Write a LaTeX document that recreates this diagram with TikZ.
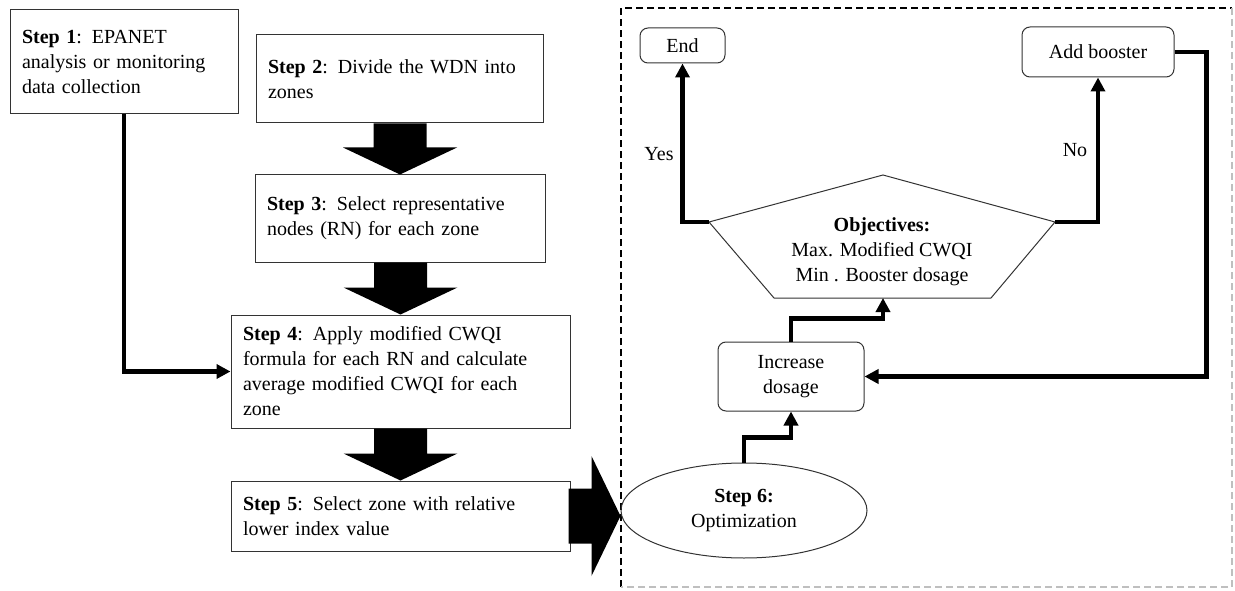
\documentclass[tikz,border=0pt]{standalone}
\usepackage{fontspec}
\setmainfont{Liberation Serif}
\usetikzlibrary{arrows.meta,shapes.geometric,calc}

% filled block arrow pointing down, from the bottom of #1 to the top of #2
\newcommand\blockdown[2]{%
  \fill let \p1=(#1.south), \p2=(#2.north) in
    (\x2-26.5pt,\y1) -- (\x2+26.5pt,\y1) -- (\x2+26.5pt,\y2+27pt) --
    (\x2+57pt,\y2+27pt) -- (\x2,\y2) -- (\x2-57pt,\y2+27pt) --
    (\x2-26.5pt,\y2+27pt) -- cycle;}

\begin{document}
\begin{tikzpicture}[x=1pt,y=-1pt,
  every node/.style={font=\fontsize{20}{25}\selectfont},
  stepbox/.style={draw=black!80,line width=1pt,rectangle,inner xsep=12pt,
    inner ysep=0pt,align=left},
  roundbox/.style={draw=black!80,line width=1pt,rectangle,rounded corners=8pt,
    inner sep=0pt,align=center},
  conn/.style={line width=4.5pt,-{Triangle[length=14pt,width=14pt]}},
  frame/.style={line width=1.2pt,dash pattern=on 7pt off 4pt}
]
\useasboundingbox (0,0) rectangle (1235,591);

% ---- left column: preparation steps ----
\node[stepbox,minimum width=228pt,minimum height=104pt,text width=204pt] (s1) at (124,62)
  {\textbf{Step 1}: EPANET\\analysis or monitoring\\data collection};
\node[stepbox,minimum width=287pt,minimum height=88pt,text width=263pt] (s2) at (399.5,79)
  {\textbf{Step 2}: Divide the WDN into\\zones};
\node[stepbox,minimum width=290pt,minimum height=87pt,text width=266pt] (s3) at (400,218.5)
  {\textbf{Step 3}: Select representative\\nodes (RN) for each zone};
\node[stepbox,minimum width=339pt,minimum height=113pt,text width=315pt] (s4) at (400.5,371.5)
  {\textbf{Step 4}: Apply modified CWQI\\formula for each RN and calculate\\average modified CWQI for each\\zone};
\node[stepbox,minimum width=339pt,minimum height=70pt,text width=315pt] (s5) at (400.5,516)
  {\textbf{Step 5}: Select zone with relative\\lower index value};

\blockdown{s2}{s3}
\blockdown{s3}{s4}
\blockdown{s4}{s5}

\draw[conn] (s1.south) |- (s4.west);

% ---- optimisation loop ----
\draw[frame] (621,587) -- (621,8) -- (1232,8);
\draw[frame,draw=black!25] (1232,8) -- (1232,587) -- (621,587);

\node[draw=black!80,line width=1pt,ellipse,minimum width=246pt,minimum height=95pt,
  inner sep=0pt,align=center] (opt) at (744,510.5) {\textbf{Step 6:}\\Optimization};

\fill let \p1=(s5.east), \p2=(opt.west) in
  (\x1-2pt,\y1+27.5pt) -- (\x2-29pt,\y1+27.5pt) -- (\x2-29pt,\y1+60pt) --
  (\x2,\y1) -- (\x2-29pt,\y1-60pt) -- (\x2-29pt,\y1-27.5pt) --
  (\x1-2pt,\y1-27.5pt) -- cycle;

\node[roundbox,minimum width=146pt,minimum height=69pt] (inc) at (791,376.5)
  {Increase\\dosage};
\node[roundbox,minimum width=85pt,minimum height=35pt] (end) at (682.5,45.5) {End};
\node[roundbox,minimum width=152pt,minimum height=50pt] (add) at (1098,52) {Add booster};

% objectives pentagon
\coordinate (pa) at (883,175);
\coordinate (pl) at (709,222);
\coordinate (pr) at (1055,222);
\coordinate (pbl) at (774,298);
\coordinate (pbr) at (991,298);
\coordinate (pb) at (883,298);
\draw[draw=black!80,line width=1pt] (pa) -- (pr) -- (pbr) -- (pbl) -- (pl) -- cycle;
\node[align=center,inner sep=0pt] (obj) at (882,252)
  {\textbf{Objectives:}\\Max. Modified CWQI\\Min . Booster dosage};

\draw[conn] (opt.north) -- ++(0,-25) -| (inc.south);
\draw[conn] (inc.north) -- ++(0,-23) -| (pb);
\draw[conn] (pl) -| (end.south);
\draw[conn] (pr) -| (add.south);
\draw[conn] (add.east) -- ++(32,0) |- (inc.east);

\node (yes) at (659,154) {Yes};
\node (no) at (1075,150) {No};
\end{tikzpicture}
\end{document}
